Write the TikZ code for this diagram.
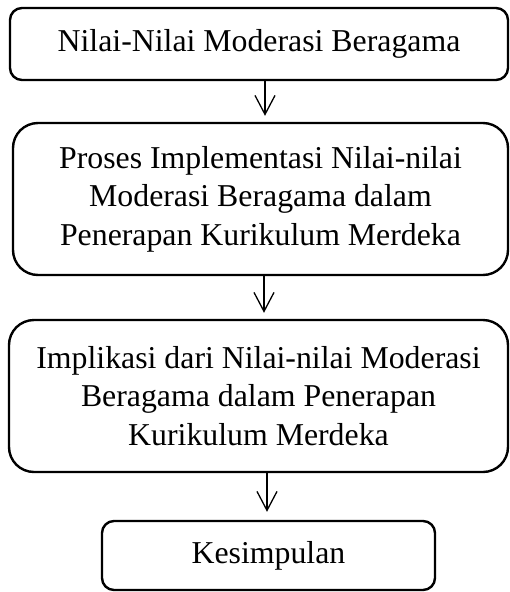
\documentclass[tikz,border=0pt]{standalone}
\usepackage{fontspec}
\setmainfont{Liberation Serif}
\usetikzlibrary{arrows.meta}
\begin{document}
\begin{tikzpicture}[x=1pt,y=1pt,
  box/.style={draw, line width=2.4pt, rounded corners=#1, align=center, inner sep=0pt,
    font=\fontsize{31.8}{38.5}\selectfont},
  arr/.style={line width=1.3pt, shorten >=6pt, -{Straight Barb[length=19pt,width=20pt]}}]
\useasboundingbox (0,0) rectangle (509,-592);
\node[box=12pt, minimum width=498pt, minimum height=72pt] (b1) at (259,-44)
  {Nilai-Nilai Moderasi Beragama};
\node[box=25pt, minimum width=495pt, minimum height=152pt] (b2) at (260.5,-199)
  {Proses Implementasi Nilai-nilai\\Moderasi Beragama dalam\\Penerapan Kurikulum Merdeka};
\node[box=25pt, minimum width=499pt, minimum height=152pt] (b3) at (258.5,-396)
  {Implikasi dari Nilai-nilai Moderasi\\Beragama dalam Penerapan\\Kurikulum Merdeka};
\node[box=12pt, minimum width=333pt, minimum height=69pt] (b4) at (268.5,-555.5)
  {Kesimpulan};
\coordinate (a1) at (265,0);
\coordinate (a2) at (264,0);
\coordinate (a3) at (267,0);
\draw[arr] (b1.south -| a1) -- (b2.north -| a1);
\draw[arr] (b2.south -| a2) -- (b3.north -| a2);
\draw[arr, shorten >=8pt] (b3.south -| a3) -- (b4.north -| a3);
\end{tikzpicture}
\end{document}
